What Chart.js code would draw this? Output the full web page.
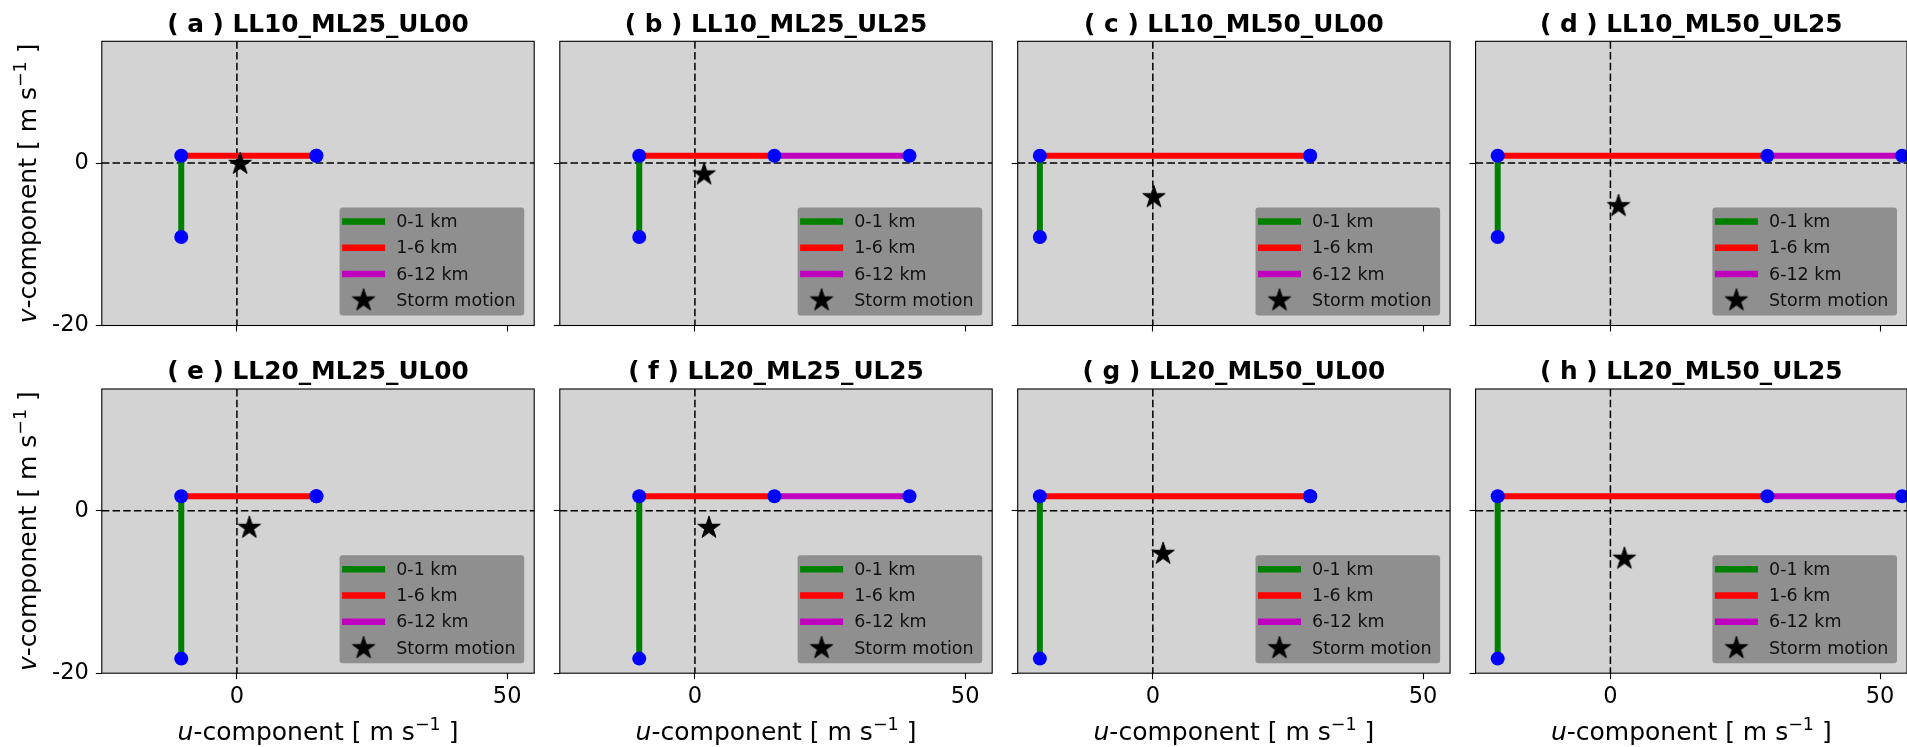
<!DOCTYPE html>
<html>
<head>
<meta charset="utf-8">
<script src="https://cdn.jsdelivr.net/npm/chart.js@4.4.1/dist/chart.umd.min.js"></script>
<style>
html,body{margin:0;padding:0;background:#fff;overflow:hidden;}
#wrap{position:relative;width:1907px;height:747px;overflow:hidden;background:#fff;}
#wrap canvas{position:absolute;left:0;top:0;}
</style>
</head>
<body>
<div id="wrap"></div>
<script>
// ---------------- data ----------------
const panelTitles = [
  '( a ) LL10_ML25_UL00', '( b ) LL10_ML25_UL25', '( c ) LL10_ML50_UL00', '( d ) LL10_ML50_UL25',
  '( e ) LL20_ML25_UL00', '( f ) LL20_ML25_UL25', '( g ) LL20_ML50_UL00', '( h ) LL20_ML50_UL25'
];
const legendLabels = ['0-1 km', '1-6 km', '6-12 km', 'Storm motion'];
// hodograph nodes: surface (u0, vSfc), 1 km (u0, vTop), 6 km (u6, vTop), 12 km (u12, vTop)
const vSfc  = [-9.1, -9.1, -9.1, -9.1, -18.2, -18.2, -18.2, -18.2];
const vTop  = [0.9, 0.9, 0.9, 0.9, 1.8, 1.8, 1.8, 1.8];
const u0    = [-10.3, -10.3, -20.9, -20.9, -10.3, -10.3, -20.9, -20.9];
const u6    = [14.7, 14.7, 29.1, 29.1, 14.7, 14.7, 29.1, 29.1];
const u12   = [14.7, 39.7, 29.1, 54.1, 14.7, 39.7, 29.1, 54.1];
const stormU = [0.6, 1.7, 0.2, 1.5, 2.3, 2.6, 1.9, 2.6];
const stormV = [-0.1, -1.4, -4.2, -5.3, -2.1, -2.1, -5.3, -5.9];
const xTicks = [0, 50];
const yTicks = [-20, 0];
const xLimits = [-25, 55];
const yLimits = [-20, 15];

// ---------------- layout ----------------
const COL_LEFT = [101.8, 559.8, 1017.7, 1475.6];
const ROW_TOP = [41.3, 389.0];
const PW = 432.4, PH = 284.2;
const CW = 1920, CH = 747;
const YW = 95, XH = 60;
const FONT = '"DejaVu Sans", "Liberation Sans", sans-serif';

function makeStar(R) {
  const s = 30;
  const c = document.createElement('canvas');
  c.width = s; c.height = s;
  const g = c.getContext('2d');
  const cx = s / 2, cy = s / 2, r = R * 0.381966;
  g.beginPath();
  for (let i = 0; i < 10; i++) {
    const a = -Math.PI / 2 + i * Math.PI / 5;
    const rr = (i % 2) ? r : R;
    g.lineTo(cx + rr * Math.cos(a), cy + rr * Math.sin(a));
  }
  g.closePath();
  g.fillStyle = '#000'; g.fill();
  g.lineWidth = 1; g.strokeStyle = '#000'; g.lineJoin = 'miter'; g.stroke();
  return c;
}
const starImg = makeStar(11.8);

function drawMixed(ctx, parts, x, y, size) {
  let total = 0;
  parts.forEach(p => {
    const sz = p.sup ? size * 0.7 : size;
    ctx.font = (p.it ? 'italic ' : '') + sz + 'px ' + FONT;
    p.w = ctx.measureText(p.t).width;
    total += p.w;
  });
  let cx = x - total / 2;
  parts.forEach(p => {
    const sz = p.sup ? size * 0.7 : size;
    ctx.font = (p.it ? 'italic ' : '') + sz + 'px ' + FONT;
    ctx.fillText(p.t, cx, y - (p.sup ? size * 0.42 : 0));
    cx += p.w;
  });
}

const panelPlugin = {
  id: 'panel',
  beforeDraw(chart) {
    const {ctx, chartArea: a} = chart;
    ctx.save();
    ctx.fillStyle = '#d3d3d3';
    ctx.fillRect(a.left, a.top, a.width, a.height);
    ctx.restore();
  },
  beforeDatasetsDraw(chart) {
    const {ctx, chartArea: a} = chart;
    const px = chart.scales.x.getPixelForValue(0);
    const py = chart.scales.y.getPixelForValue(0);
    ctx.save();
    ctx.setLineDash([7.5, 3.2]);
    ctx.lineWidth = 1.5;
    ctx.strokeStyle = '#000';
    ctx.beginPath();
    ctx.moveTo(a.left, py); ctx.lineTo(a.right, py);
    ctx.stroke();
    ctx.beginPath();
    ctx.moveTo(px, a.top); ctx.lineTo(px, a.bottom);
    ctx.stroke();
    ctx.restore();
  },
  afterDraw(chart, args, opts) {
    const {ctx, chartArea: a} = chart;
    ctx.save();
    // frame
    ctx.strokeStyle = '#000';
    ctx.lineWidth = 1.1;
    ctx.strokeRect(a.left, a.top, a.width, a.height);
    // title
    ctx.fillStyle = '#000';
    ctx.font = 'bold 24.8px ' + FONT;
    ctx.textAlign = 'center';
    ctx.textBaseline = 'alphabetic';
    ctx.fillText(opts.title, (a.left + a.right) / 2, a.top - 9.8);
    // legend
    const bw = 184.6, bh = 108;
    const bx = a.right - 10 - bw, by = a.bottom - 10 - bh;
    ctx.fillStyle = 'rgba(128,128,128,0.82)';
    ctx.beginPath();
    ctx.roundRect(bx, by, bw, bh, 3);
    ctx.fill();
    const rowY = [14, 40.3, 66.5, 93];
    const items = chart.data.datasets.filter(d => d.label);
    ctx.textAlign = 'left';
    ctx.textBaseline = 'middle';
    ctx.font = '17.5px ' + FONT;
    items.forEach((d, k) => {
      const yy = by + rowY[k];
      if (d.showLine) {
        ctx.strokeStyle = d.borderColor;
        ctx.lineWidth = 6.5;
        ctx.lineCap = 'butt';
        ctx.beginPath();
        ctx.moveTo(bx + 2.5, yy); ctx.lineTo(bx + 45.5, yy);
        ctx.stroke();
      } else {
        ctx.drawImage(starImg, bx + 24 - starImg.width / 2, yy - starImg.height / 2);
      }
      ctx.fillStyle = '#111';
      ctx.fillText(d.label, bx + 56.6, yy + 1);
    });
    // axis labels
    ctx.fillStyle = '#000';
    ctx.textAlign = 'left';
    ctx.textBaseline = 'alphabetic';
    if (opts.showX) {
      drawMixed(ctx, [{t: 'u', it: true}, {t: '-component [ m s'}, {t: '\u22121', sup: true}, {t: ' ]'}],
        (a.left + a.right) / 2, 740, 25);
    }
    if (opts.showY) {
      ctx.translate(36, (a.top + a.bottom) / 2);
      ctx.rotate(-Math.PI / 2);
      drawMixed(ctx, [{t: 'v', it: true}, {t: '-component [ m s'}, {t: '\u22121', sup: true}, {t: ' ]'}],
        0, 0, 25);
    }
    ctx.restore();
  }
};

const wrap = document.getElementById('wrap');
for (let i = 0; i < 8; i++) {
  const r = Math.floor(i / 4), c = i % 4;
  const cv = document.createElement('canvas');
  cv.width = CW; cv.height = CH;
  cv.style.width = CW + 'px'; cv.style.height = CH + 'px';
  wrap.appendChild(cv);
  const showX = r === 1, showY = c === 0;
  const lineDs = (label, pts, color, order) => ({
    label, data: pts, showLine: true, borderColor: color, backgroundColor: color,
    borderWidth: 6, borderCapStyle: 'butt', pointRadius: 0, pointHoverRadius: 0,
    tension: 0, fill: false, order
  });
  const datasets = [
    lineDs(legendLabels[0], [{x: u0[i], y: vSfc[i]}, {x: u0[i], y: vTop[i]}], '#008000', 4),
    lineDs(legendLabels[1], [{x: u0[i], y: vTop[i]}, {x: u6[i], y: vTop[i]}], '#ff0000', 3),
    lineDs(legendLabels[2], [{x: u6[i], y: vTop[i]}, {x: u12[i], y: vTop[i]}], '#bf00bf', 2),
    {
      label: '', showLine: false, order: 1,
      data: [{x: u0[i], y: vSfc[i]}, {x: u0[i], y: vTop[i]}, {x: u6[i], y: vTop[i]}, {x: u12[i], y: vTop[i]}],
      pointRadius: 7, pointHoverRadius: 7, pointBackgroundColor: '#0000ff', pointBorderWidth: 0,
      backgroundColor: '#0000ff', borderColor: '#0000ff'
    },
    {
      label: legendLabels[3], showLine: false, order: 0,
      data: [{x: stormU[i], y: stormV[i]}],
      pointStyle: starImg, pointRadius: 12, pointHoverRadius: 12,
      backgroundColor: '#000', borderColor: '#000'
    }
  ];
  const tickFont = {family: FONT, size: 22.5};
  new Chart(cv, {
    type: 'scatter',
    data: {datasets},
    plugins: [panelPlugin],
    options: {
      responsive: false,
      animation: false,
      events: [],
      devicePixelRatio: 1,
      layout: {padding: {
        left: COL_LEFT[c] - YW,
        top: ROW_TOP[r],
        right: CW - COL_LEFT[c] - PW,
        bottom: CH - ROW_TOP[r] - PH - XH
      }},
      plugins: {
        legend: {display: false}, title: {display: false}, tooltip: {enabled: false},
        panel: {title: panelTitles[i], showX, showY}
      },
      scales: {
        x: {
          type: 'linear', position: 'bottom', min: xLimits[0], max: xLimits[1],
          afterBuildTicks: s => { s.ticks = xTicks.map(v => ({value: v})); },
          afterFit: s => { s.height = XH; },
          grid: {display: true, drawOnChartArea: false, drawTicks: true, tickLength: 6, tickWidth: 1.1, tickColor: '#000'},
          border: {display: false},
          ticks: {font: tickFont, color: '#000', padding: 4, maxRotation: 0, minRotation: 0, autoSkip: false,
                  callback: v => showX ? String(v) : ''}
        },
        y: {
          type: 'linear', position: 'left', min: yLimits[0], max: yLimits[1],
          afterBuildTicks: s => { s.ticks = yTicks.map(v => ({value: v})); },
          afterFit: s => { s.width = YW; },
          grid: {display: true, drawOnChartArea: false, drawTicks: true, tickLength: 6, tickWidth: 1.1, tickColor: '#000'},
          border: {display: false},
          ticks: {font: tickFont, color: '#000', padding: 7, autoSkip: false,
                  callback: v => showY ? String(v) : ''}
        }
      }
    }
  });
}
</script>
</body>
</html>
